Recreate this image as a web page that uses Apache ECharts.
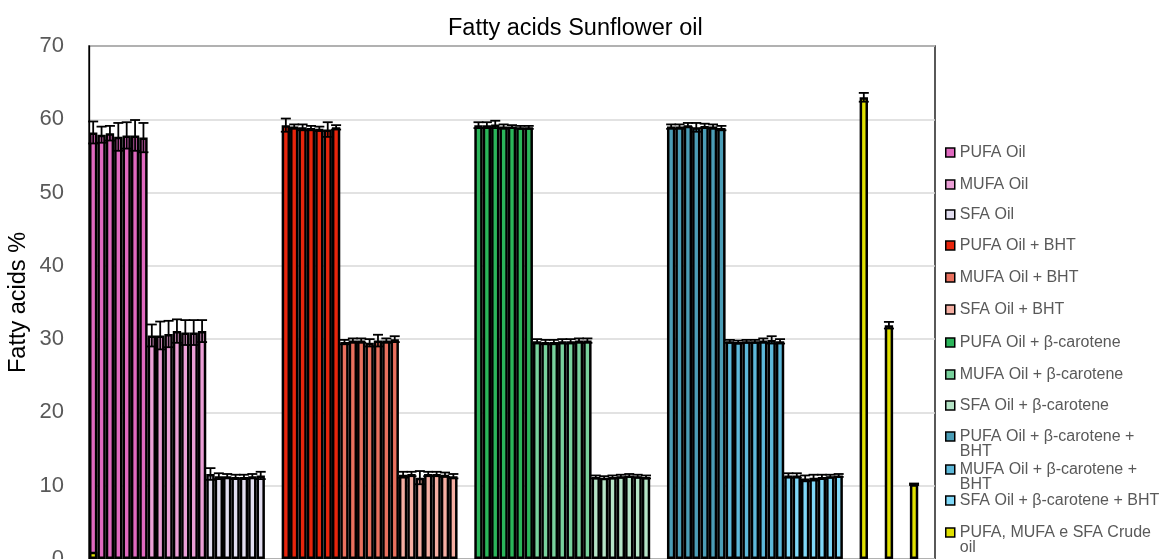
<!DOCTYPE html>
<html><head><meta charset="utf-8">
<script src="https://cdn.jsdelivr.net/npm/echarts@6/dist/echarts.min.js"></script>
<style>html,body{margin:0;padding:0;background:#fff}#c{width:1160px;height:559px}</style>
</head><body><div id="c"></div>
<script>
// ---- data ----
const seriesNames = [
  'PUFA Oil','MUFA Oil','SFA Oil',
  'PUFA Oil + BHT','MUFA Oil + BHT','SFA Oil + BHT',
  'PUFA Oil + β-carotene','MUFA Oil + β-carotene','SFA Oil + β-carotene',
  'PUFA Oil + β-carotene + BHT','MUFA Oil + β-carotene + BHT','SFA Oil + β-carotene + BHT',
  'PUFA, MUFA e SFA Crude oil'
];
const seriesColors = [
  '#df69bf','#eb9fd6','#e2def0',
  '#e8250c','#e9705e','#f5aea2',
  '#2bb55a','#78d19c','#b5e4c6',
  '#4b9db6','#5db8d9','#7fd8f8',
  '#e0e000'
];
// first category index of each 7-bar block
const seriesStart = [0,7,14,23,30,37,46,53,60,69,76,83];

const pufaOil      = [58.2,57.9,58.1,57.6,57.8,57.8,57.5];
const pufaOilErr   = [1.5,1.1,1.0,1.9,1.8,2.1,2.0];
const mufaOil      = [30.5,30.5,30.7,31.1,30.9,30.9,31.1];
const mufaOilErr   = [1.5,1.9,1.8,1.6,1.7,1.7,1.5];
const sfaOil       = [11.6,11.3,11.3,11.2,11.2,11.3,11.4];
const sfaOilErr    = [0.8,0.4,0.3,0.3,0.3,0.3,0.5];

const pufaBht      = [59.2,59.0,58.9,58.8,58.7,58.6,58.9];
const pufaBhtErr   = [0.9,0.3,0.4,0.3,0.3,1.0,0.3];
const mufaBht      = [29.6,29.8,29.8,29.5,29.8,29.8,30.0];
const mufaBhtErr   = [0.3,0.3,0.3,0.5,0.8,0.3,0.4];
const sfaBht       = [11.5,11.6,11.1,11.6,11.6,11.5,11.3];
const sfaBhtErr    = [0.4,0.3,0.9,0.3,0.3,0.3,0.3];

const pufaBc       = [59.2,59.2,59.3,59.0,59.0,58.9,58.9];
const pufaBcErr    = [0.4,0.4,0.5,0.3,0.2,0.2,0.2];
const mufaBc       = [29.7,29.6,29.6,29.7,29.7,29.8,29.8];
const mufaBcErr    = [0.3,0.3,0.3,0.3,0.3,0.3,0.3];
const sfaBc        = [11.2,11.1,11.2,11.3,11.4,11.3,11.2];
const sfaBcErr     = [0.2,0.2,0.2,0.2,0.2,0.2,0.2];

const pufaBcBht    = [59.0,59.0,59.2,58.9,59.1,59.0,58.8];
const pufaBcBhtErr = [0.3,0.3,0.3,0.6,0.3,0.3,0.3];
const mufaBcBht    = [29.7,29.6,29.7,29.7,29.8,29.9,29.7];
const mufaBcBhtErr = [0.2,0.2,0.2,0.2,0.3,0.5,0.3];
const sfaBcBht     = [11.4,11.4,11.0,11.1,11.2,11.3,11.4];
const sfaBcBhtErr  = [0.3,0.3,0.4,0.4,0.3,0.2,0.2];

const crudeOilCats = [0,92,95,98];
const crudeOil     = [1.0,63.0,31.9,10.2];
const crudeOilErr  = [0,0.6,0.45,0.1];

const categoryCount = 101;
const yTicks = [0,10,20,30,40,50,60,70];

const blockValues = [pufaOil,mufaOil,sfaOil,pufaBht,mufaBht,sfaBht,pufaBc,mufaBc,sfaBc,pufaBcBht,mufaBcBht,sfaBcBht];
const blockErrs   = [pufaOilErr,mufaOilErr,sfaOilErr,pufaBhtErr,mufaBhtErr,sfaBhtErr,pufaBcErr,mufaBcErr,sfaBcErr,pufaBcBhtErr,mufaBcBhtErr,sfaBcBhtErr];

// legend display (wrapped like the original)
const legendDisplay = {
  'PUFA Oil + β-carotene + BHT': ' \nPUFA Oil + β-carotene +\nBHT',
  'MUFA Oil + β-carotene + BHT': ' \nMUFA Oil + β-carotene +\nBHT',
  'PUFA, MUFA e SFA Crude oil': ' \nPUFA, MUFA e SFA Crude\noil'
};
const legendIconY = [152,184,214,245,277,309,342,374,405,436,469,500,532];

// ---- build ----
const categories = [];
for (let i = 0; i < categoryCount; i++) categories.push(String(i + 1));

const FONT = 'Liberation Sans, Arial, sans-serif';
const series = [];
const errData = [];
blockValues.forEach((vals, s) => {
  const d = new Array(categoryCount).fill('-');
  vals.forEach((v, i) => {
    d[seriesStart[s] + i] = v;
    errData.push([seriesStart[s] + i, v, blockErrs[s][i]]);
  });
  series.push({name: seriesNames[s], type: 'bar', data: d});
});
{
  const d = new Array(categoryCount).fill('-');
  crudeOilCats.forEach((c, i) => {
    d[c] = crudeOil[i];
    if (crudeOilErr[i] > 0) errData.push([c, crudeOil[i], crudeOilErr[i]]);
  });
  series.push({name: seriesNames[12], type: 'bar', data: d});
}
series.forEach((s, i) => {
  s.barGap = '-100%';
  s.barCategoryGap = '0%';
  s.itemStyle = {color: seriesColors[i], borderColor: '#000', borderWidth: 2.5};
  s.emphasis = {disabled: true};
});
series.push({
  type: 'custom',
  name: 'err',
  data: errData,
  encode: {x: 0, y: 1},
  z: 10,
  renderItem: function (params, api) {
    const c = api.value(0), v = api.value(1), e = api.value(2);
    const hi = api.coord([c, v + e]);
    const lo = api.coord([c, v - e]);
    const hw = 5;
    const st = {stroke: '#000', lineWidth: 1.8};
    return {type: 'group', children: [
      {type: 'line', shape: {x1: hi[0], y1: hi[1], x2: lo[0], y2: lo[1]}, style: st},
      {type: 'line', shape: {x1: hi[0] - hw, y1: hi[1], x2: hi[0] + hw, y2: hi[1]}, style: st},
      {type: 'line', shape: {x1: lo[0] - hw, y1: lo[1], x2: lo[0] + hw, y2: lo[1]}, style: st}
    ]};
  }
});

const legends = seriesNames.map((n, i) => {
  const multi = !!legendDisplay[n];
  const h = multi ? 45 : 15;
  return {
    data: [n], orient: 'vertical', left: 945, top: legendIconY[i] - h / 2,
    padding: 0, itemWidth: 9, itemHeight: 9, selectedMode: false,
    icon: 'rect',
    itemStyle: {borderColor: '#000', borderWidth: 1.5},
    formatter: function (name) { return legendDisplay[name] || name; },
    textStyle: {fontFamily: FONT, fontSize: 16, color: '#595959', lineHeight: 15}
  };
});

const chart = echarts.init(document.getElementById('c'));
chart.setOption({
  animation: false,
  backgroundColor: '#fff',
  title: {text: 'Fatty acids Sunflower oil', left: 443, top: 12, padding: 5,
    textStyle: {fontFamily: FONT, fontSize: 23.5, fontWeight: 'normal', color: '#000'}},
  legend: legends,
  grid: {left: 89, right: 225, top: 46, bottom: 0, outerBoundsMode: 'none', containLabel: false,
    show: true, borderColor: '#000', borderWidth: 1.3},
  xAxis: {type: 'category', data: categories,
    axisLabel: {show: false}, axisTick: {show: false}, axisLine: {show: true, lineStyle: {color: '#000'}}},
  yAxis: {type: 'value', min: yTicks[0], max: yTicks[yTicks.length - 1], interval: 10,
    name: 'Fatty acids %', nameLocation: 'middle', nameGap: 58, nameMoveOverlap: false,
    nameTextStyle: {fontFamily: FONT, fontSize: 23.5, color: '#000'},
    axisLine: {show: true, lineStyle: {color: '#000', width: 1.3}},
    axisTick: {show: false},
    axisLabel: {fontFamily: FONT, fontSize: 22, color: '#595959', margin: 25},
    splitLine: {lineStyle: {color: '#d9d9d9', width: 1.5}}},
  series: series
});
</script></body></html>
